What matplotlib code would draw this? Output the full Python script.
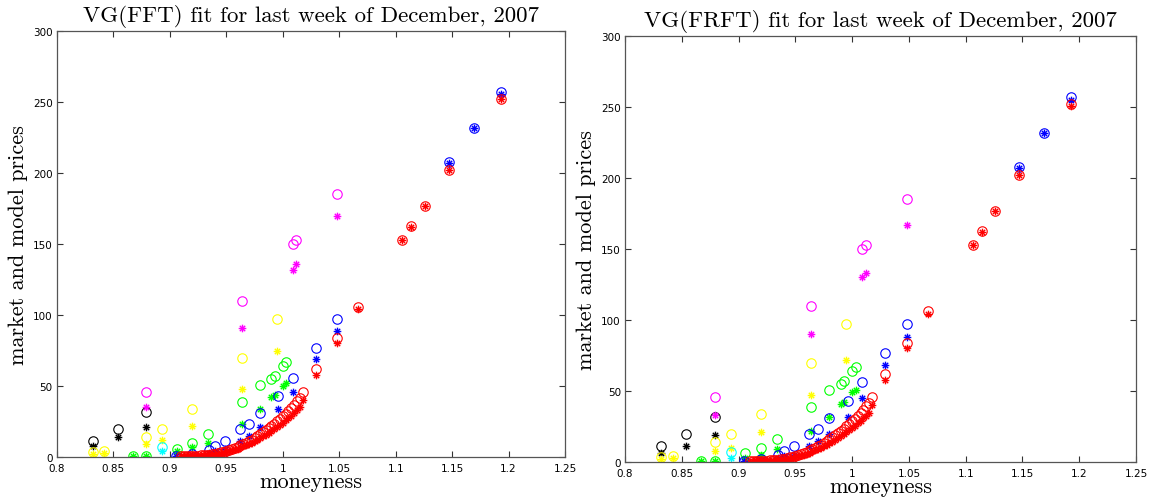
import matplotlib
matplotlib.use("Agg")
import matplotlib.pyplot as plt
import numpy as np
from matplotlib.path import Path

# market prices (same in both panels), grouped by maturity colour
blk_x = [0.832, 0.854, 0.879]
blk_mkt = [11, 20, 32]
blk_fft = [8, 14, 21]
blk_frft = [6, 11, 19]

yel_x = [0.832, 0.842, 0.879, 0.893, 0.920, 0.964, 0.995]
yel_mkt = [3.5, 4, 14, 20, 34, 70, 97]
yel_fft = [2, 3, 9, 12, 22, 48, 75]
yel_frft = [2, 2.5, 8, 10, 21, 47, 72]

cya_x = [0.893]
cya_mkt = [7]
cya_fft = [4]
cya_frft = [3]

mag_x = [0.879, 0.964, 1.009, 1.012, 1.048]
mag_mkt = [46, 110, 150, 153, 185]
mag_fft = [35, 91, 132, 136, 170]
mag_frft = [33, 90, 130, 133, 167]

grn_x = [0.867, 0.879, 0.906, 0.920, 0.934, 0.964, 0.980, 0.990, 0.993, 1.000, 1.003]
grn_mkt = [1, 1, 6, 10, 16, 39, 51, 55, 57, 64, 67]
grn_fft = [0.8, 0.8, 4, 7, 10, 23, 34, 42, 44, 50, 52]
grn_frft = [0.5, 0.5, 3, 5, 9, 22, 32, 41, 42, 49, 51]

blu_x = [0.905, 0.920, 0.935, 0.940, 0.949, 0.962, 0.970, 0.980, 0.996, 1.009,
         1.029, 1.048, 1.147, 1.169, 1.193]
blu_mkt = [1, 2, 5, 8, 11, 20, 23, 31, 43, 56, 77, 97, 208, 232, 257]
blu_fft = [0.5, 1.5, 3, 4, 6, 11, 15, 21, 34, 46, 69, 89, 207, 232, 256]
blu_frft = [0.5, 1.5, 3, 4, 5, 11, 15, 20, 32, 45, 68, 88, 207, 232, 255]

red_x = [0.910, 0.9125, 0.915, 0.9175, 0.920, 0.9225, 0.925, 0.9275, 0.930, 0.9325,
         0.935, 0.9375, 0.940, 0.9425, 0.945, 0.9475, 0.950, 0.9525, 0.955, 0.9575,
         0.960, 0.9625, 0.965, 0.9675, 0.970, 0.9725, 0.975, 0.9775, 0.980, 0.9825,
         0.985, 0.9875, 0.990, 0.9925, 0.995, 0.9975, 1.000, 1.0025, 1.005, 1.0075,
         1.010, 1.0125, 1.015, 1.0175,
         1.029, 1.048, 1.067, 1.106, 1.114, 1.126, 1.147, 1.193]
red_mkt = [0.5, 0.5, 0.6, 0.7, 0.8, 0.9, 1.0, 1.1, 1.3, 1.5,
           1.7, 2.0, 2.4, 2.8, 3.3, 3.8, 4.4, 5.0, 5.7, 6.5,
           7.3, 8.2, 9.1, 10.1, 11.1, 12.2, 13.4, 14.6, 15.9, 17.3,
           18.7, 20.2, 21.8, 23.4, 25.1, 26.9, 28.7, 30.6, 32.6, 34.7,
           36.9, 39.2, 41.6, 46.0,
           62, 84, 106, 153, 163, 177, 202, 252]
red_fft = [0.4, 0.4, 0.5, 0.6, 0.7, 0.8, 0.8, 0.9, 1.1, 1.3,
           1.4, 1.7, 2.0, 2.3, 2.7, 3.1, 3.6, 4.1, 4.7, 5.3,
           6.0, 6.8, 7.6, 8.4, 9.3, 10.2, 11.2, 12.2, 13.3, 14.5,
           15.7, 17.0, 18.3, 19.7, 21.1, 22.6, 24.2, 25.8, 27.5, 29.2,
           31.0, 32.9, 34.9, 40.0,
           58, 80, 104, 153, 162, 177, 202, 252]
red_frft = [0.3, 0.4, 0.5, 0.5, 0.6, 0.7, 0.8, 0.9, 1.0, 1.2,
            1.4, 1.6, 1.9, 2.2, 2.6, 3.0, 3.5, 4.0, 4.6, 5.2,
            5.9, 6.6, 7.4, 8.2, 9.1, 10.0, 11.0, 12.0, 13.1, 14.2,
            15.4, 16.7, 18.0, 19.4, 20.8, 22.3, 23.9, 25.5, 27.2, 28.9,
            30.7, 32.6, 34.6, 40.0,
            58, 80, 104, 153, 162, 177, 202, 251]

groups = [
    ("k", blk_x, blk_mkt, blk_fft, blk_frft),
    ((1, 1, 0), yel_x, yel_mkt, yel_fft, yel_frft),
    ((0, 1, 1), cya_x, cya_mkt, cya_fft, cya_frft),
    ((1, 0, 1), mag_x, mag_mkt, mag_fft, mag_frft),
    ((0, 1, 0), grn_x, grn_mkt, grn_fft, grn_frft),
    ((0, 0, 1), blu_x, blu_mkt, blu_fft, blu_frft),
    ((1, 0, 0), red_x, red_mkt, red_fft, red_frft),
]

xticks = [0.8, 0.85, 0.9, 0.95, 1.0, 1.05, 1.1, 1.15, 1.2, 1.25]
xticklabels = ["0.8", "0.85", "0.9", "0.95", "1", "1.05", "1.1", "1.15", "1.2", "1.25"]
yticks = [0, 50, 100, 150, 200, 250, 300]

# matlab style asterisk: + and x combined
d = 0.7071
star = Path([(-1, 0), (1, 0), (0, -1), (0, 1), (-d, -d), (d, d), (-d, d), (d, -d)],
            [Path.MOVETO, Path.LINETO] * 4)

serif = "cmr10"
fig = plt.figure(figsize=(11.51, 5.02), dpi=100)
ax1 = fig.add_axes([0.0495, 0.0876, 0.4414, 0.8486])
ax2 = fig.add_axes([0.543, 0.0777, 0.444, 0.8486])

panels = [(ax1, 3, "VG(FFT) fit for last week of December, 2007"),
          (ax2, 4, "VG(FRFT) fit for last week of December, 2007")]

for ax, col, title in panels:
    for g in groups:
        c = g[0]
        ax.plot(g[1], g[2], "o", mfc="none", mec=c, ms=6.8, mew=0.8, ls="none")
        ax.plot(g[1], g[col], marker=star, color=c, ms=5.5, mew=1.0, ls="none")
    ax.set_xlim(0.8, 1.25)
    ax.set_ylim(0, 300)
    ax.set_xticks(xticks)
    ax.set_xticklabels(xticklabels)
    ax.set_yticks(yticks)
    ax.tick_params(direction="in", top=True, right=True, length=4, width=0.8,
                   labelsize=7.5, colors="#333333", labelcolor="black")
    ax.tick_params(axis="x", pad=4)
    ax.tick_params(axis="y", pad=3)
    for s in ax.spines.values():
        s.set_color("#555555")
        s.set_linewidth(0.9)
    ax.set_title(title, family=serif, fontsize=16.5, pad=7)
    ax.set_xlabel("moneyness", family=serif, fontsize=16, labelpad=-1)
    ax.set_ylabel("market and model prices", family=serif, fontsize=16, labelpad=4)

plt.savefig("out.png", dpi=100)
